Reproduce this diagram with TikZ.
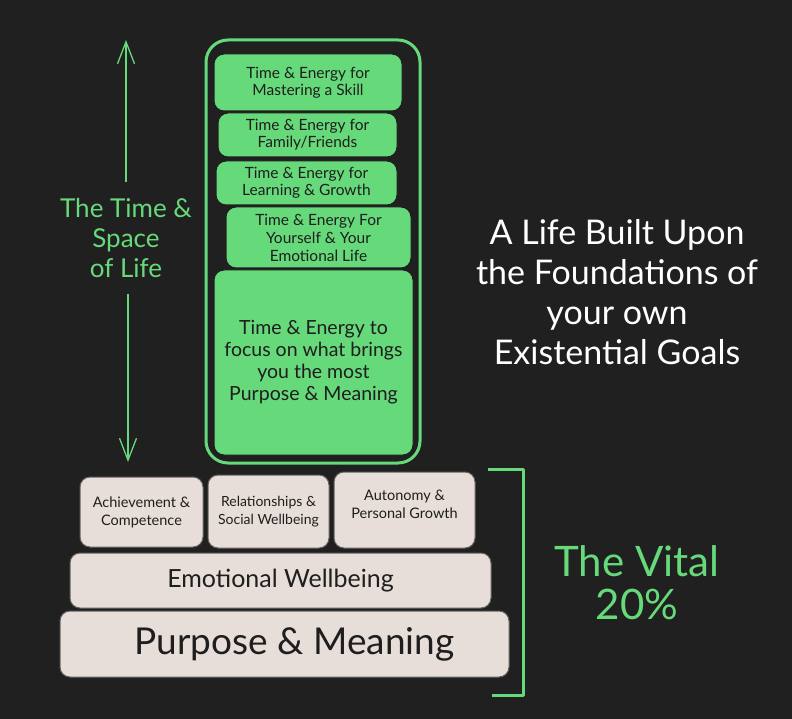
\documentclass[tikz,border=0pt]{standalone}
\usepackage{fontspec}
\setmainfont{Lato}
\usetikzlibrary{arrows.meta}
\definecolor{bg}{RGB}{32,32,32}
\definecolor{lgreen}{RGB}{102,217,122}
\definecolor{beige}{RGB}{232,222,217}
\definecolor{ink}{RGB}{30,30,30}
\tikzset{
  gbox/.style={draw=ink, line width=1pt, fill=lgreen, rounded corners=10pt, text=ink, align=center, inner sep=0pt},
  bbox/.style={draw=ink!70, line width=1pt, fill=beige, rounded corners=10pt, text=ink, align=center, inner sep=0pt},
  gtext/.style={text=lgreen, align=center},
  wtext/.style={text=white, align=center},
  lifearrow/.style={draw=lgreen, line width=1.3pt, -{Straight Barb[length=22pt,width=17pt,line width=1.3pt]}},
}
\begin{document}
\begin{tikzpicture}[x=1pt,y=-1pt]
\fill[bg] (0,0) rectangle (792,719);
\useasboundingbox (0,0) rectangle (792,719);

% outer container
\node[draw=lgreen, line width=3pt, rounded corners=22pt, minimum width=214pt, minimum height=423pt, inner sep=0pt] (outer) at (313,251.5) {};

% green boxes
\node[gbox, minimum width=188pt, minimum height=57pt, font=\fontsize{15.5}{17}\selectfont] (b1) at (308,82.5) {Time \& Energy for\\Mastering a Skill};
\node[gbox, minimum width=179pt, minimum height=44pt, font=\fontsize{15.5}{17}\selectfont] (b2) at (307.5,135) {Time \& Energy for\\Family/Friends};
\node[gbox, minimum width=181pt, minimum height=44pt, font=\fontsize{15.5}{17}\selectfont] (b3) at (306.5,183) {Time \& Energy for\\Learning \& Growth};
\node[gbox, minimum width=185pt, minimum height=61pt, font=\fontsize{15.5}{18}\selectfont] (b4) at (318.5,237.5) {Time \& Energy For\\Yourself \& Your\\Emotional Life};
\node[gbox, minimum width=199pt, minimum height=185pt, font=\fontsize{19.5}{22}\selectfont] (b5) at (313.5,362.5) {Time \& Energy to\\focus on what brings\\you the most\\Purpose \& Meaning};

% left label and arrows
\node[gtext, font=\fontsize{26}{30}\selectfont, inner sep=0pt, minimum height=111pt] (life) at (126,238) {The Time \&\\Space\\of Life};
\coordinate (ltop) at (126,40);
\coordinate (lbot) at (128,462);
\draw[lifearrow] (life.north) -- (ltop);
\draw[lifearrow] (life.south -| lbot) -- (lbot);

% right title
\node[wtext, font=\fontsize{34}{40}\selectfont] (title) at (617,292) {A Life Built Upon\\the Foundations of\\your own\\Existential Goals};

% bottom boxes
\node[bbox, minimum width=123pt, minimum height=70pt, font=\fontsize{14.5}{18}\selectfont] (ach) at (141.5,512) {Achievement \&\\Competence};
\node[bbox, minimum width=121pt, minimum height=73pt, font=\fontsize{14}{18}\selectfont] (rel) at (268.5,511.5) {Relationships \&\\Social Wellbeing};
\node[bbox, minimum width=141pt, minimum height=76pt, font=\fontsize{14.5}{18}\selectfont, text depth=12pt] (aut) at (404.5,510) {Autonomy \&\\Personal Growth};
\node[bbox, minimum width=421pt, minimum height=55pt, font=\fontsize{25}{28}\selectfont] (emo) at (280.5,580.5) {Emotional Wellbeing};
\node[bbox, minimum width=449pt, minimum height=66pt, font=\fontsize{37}{40}\selectfont] (pur) at (284.5,644) {\hspace*{20pt}Purpose \& Meaning};

% bracket
\coordinate (brA) at (488,469);
\coordinate (brB) at (523,469);
\coordinate (brC) at (523,695);
\coordinate (brD) at (492,695);
\draw[lgreen, line width=3pt, line join=round] (brA) -- (brB) -- (brC) -- (brD);

% vital text
\node[gtext, font=\fontsize{42}{43}\selectfont] (vital) at (637,583) {The Vital\\20\%};
\end{tikzpicture}
\end{document}
